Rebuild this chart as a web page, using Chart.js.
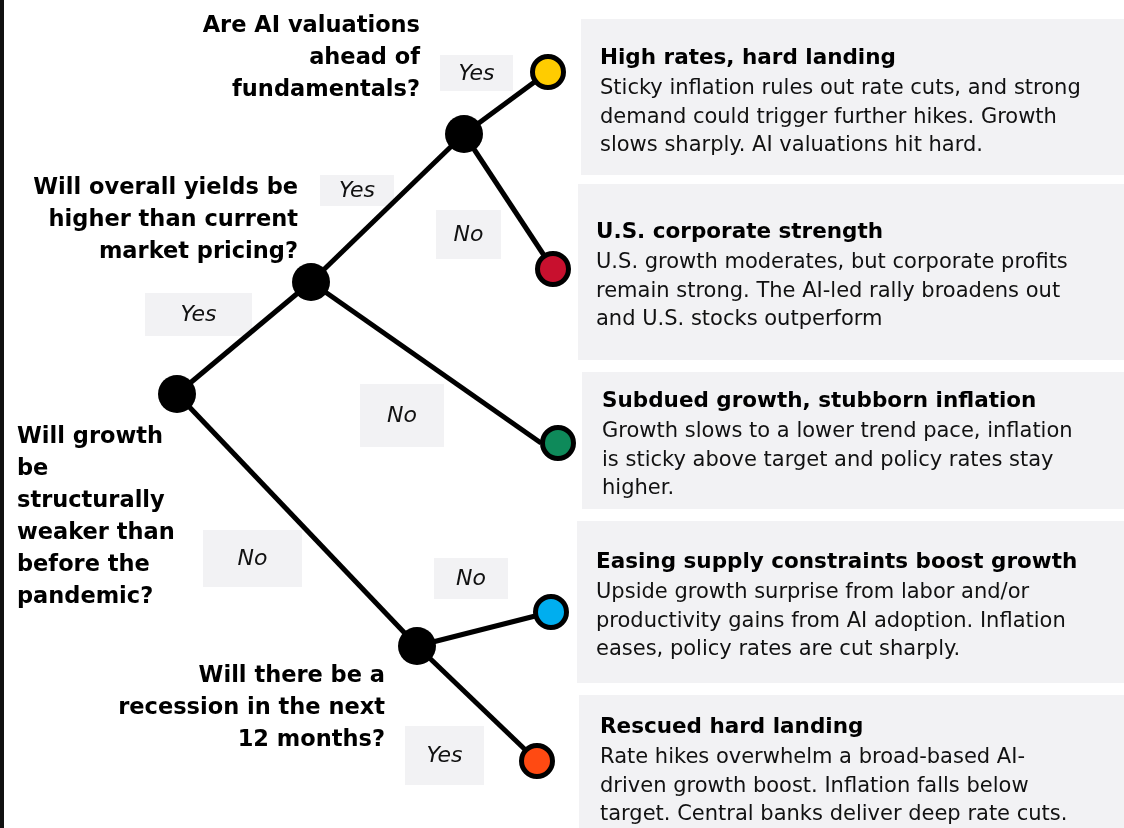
<!DOCTYPE html>
<html>
<head>
<meta charset="utf-8">
<script src="https://cdn.jsdelivr.net/npm/chart.js@4/dist/chart.umd.min.js"></script>
<style>
  html, body { margin: 0; padding: 0; background: #ffffff; }
  #wrap { width: 1124px; height: 828px; position: relative; }
</style>
</head>
<body>
<div id="wrap"><canvas id="c" width="1124" height="828"></canvas></div>
<script>
// ---------------- DATA ----------------
// Decision nodes (questions): root, yields, AI valuations, recession
const decisionIds = ['root', 'yields', 'ai', 'recession'];
const decisionX = [177, 311, 464, 417];
const decisionY = [394, 282, 134, 646];

// Outcome nodes (scenarios)
const outcomeIds = ['hard', 'corp', 'subdued', 'easing', 'rescued'];
const outcomeX = [548, 553, 558, 551, 537];
const outcomeY = [72, 269, 443, 612, 761];
const outcomeColors = ['#FFCC00', '#C8102E', '#0E8A5A', '#00AEEF', '#FF4A12'];

// Edges: from decision node -> to node
const edgeFrom = ['root', 'root', 'yields', 'yields', 'ai', 'ai', 'recession', 'recession'];
const edgeTo = ['yields', 'recession', 'ai', 'subdued', 'hard', 'corp', 'easing', 'rescued'];

// Question texts (one per decision node)
const questionLines = [
  ['Will growth', 'be', 'structurally', 'weaker than', 'before the', 'pandemic?'],
  ['Will overall yields be', 'higher than current', 'market pricing?'],
  ['Are AI valuations', 'ahead of', 'fundamentals?'],
  ['Will there be a', 'recession in the next', '12 months?']
];

// Branch labels (one per edge)
const branchLabels = ['Yes', 'No', 'Yes', 'No', 'Yes', 'No', 'No', 'Yes'];

// Scenario boxes
const scenarioTitles = [
  'High rates, hard landing',
  'U.S. corporate strength',
  'Subdued growth, stubborn inflation',
  'Easing supply constraints boost growth',
  'Rescued hard landing'
];
const scenarioBodies = [
  ['Sticky inflation rules out rate cuts, and strong', 'demand could trigger further hikes. Growth', 'slows sharply. AI valuations hit hard.'],
  ['U.S. growth moderates, but corporate profits', 'remain strong. The AI-led rally broadens out', 'and U.S. stocks outperform'],
  ['Growth slows to a lower trend pace, inflation', 'is sticky above target and policy rates stay', 'higher.'],
  ['Upside growth surprise from labor and/or', 'productivity gains from AI adoption. Inflation', 'eases, policy rates are cut sharply.'],
  ['Rate hikes overwhelm a broad-based AI-', 'driven growth boost. Inflation falls below', 'target. Central banks deliver deep rate cuts.']
];

// ---------------- LAYOUT (positions / styles) ----------------
const questionLayout = [
  { x: 17, y: 443, align: 'left' },
  { x: 298, y: 194, align: 'right' },
  { x: 420, y: 32, align: 'right' },
  { x: 385, y: 682, align: 'right' }
];
const labelBoxes = [ // per edge: x, y, w, h
  [145, 293, 107, 43],
  [203, 530, 99, 57],
  [320, 175, 74, 31],
  [360, 384, 84, 63],
  [440, 55, 73, 36],
  [436, 210, 65, 49],
  [434, 558, 74, 41],
  [405, 726, 79, 59]
];
const scenarioBoxes = [ // x, y, h, textX, titleBaseline
  [581, 19, 156, 600, 64],
  [578, 184, 176, 596, 238],
  [582, 372, 137, 602, 407],
  [577, 521, 162, 596, 568],
  [579, 695, 133, 600, 733]
];
const BOX_FILL = '#F2F2F4';
const FONT = '"DejaVu Sans", sans-serif';

// ---------------- BUILD ----------------
function nodePos(id) {
  let i = decisionIds.indexOf(id);
  if (i >= 0) return { x: decisionX[i], y: decisionY[i] };
  i = outcomeIds.indexOf(id);
  const p = { x: outcomeX[i], y: outcomeY[i] };
  if (id === 'subdued') p.x -= 17; // branch meets the node on its left side
  return p;
}

const datasets = [];
edgeFrom.forEach((f, k) => {
  datasets.push({
    type: 'scatter',
    data: [nodePos(f), nodePos(edgeTo[k])],
    showLine: true,
    borderColor: '#000000',
    borderWidth: 5,
    pointRadius: 0,
    clip: false,
    order: 3
  });
});
datasets.push({
  type: 'scatter',
  data: decisionX.map((x, i) => ({ x, y: decisionY[i] })),
  pointRadius: 19,
  pointBackgroundColor: '#000000',
  pointBorderWidth: 0,
  clip: false,
  order: 2
});
datasets.push({
  type: 'scatter',
  data: outcomeX.map((x, i) => ({ x, y: outcomeY[i] })),
  pointRadius: 15.5,
  pointBackgroundColor: outcomeColors,
  pointBorderColor: '#000000',
  pointBorderWidth: 5,
  clip: false,
  order: 1
});

const diagramPlugin = {
  id: 'diagram',
  beforeDatasetsDraw(chart) {
    const ctx = chart.ctx;
    ctx.save();
    // left frame strip
    ctx.fillStyle = '#111111';
    ctx.fillRect(0, 0, 4, 828);
    ctx.fillStyle = BOX_FILL;
    scenarioBoxes.forEach(b => ctx.fillRect(b[0], b[1], 1124 - b[0], b[2]));
    labelBoxes.forEach(b => ctx.fillRect(b[0], b[1], b[2], b[3]));
    ctx.restore();
  },
  afterDatasetsDraw(chart) {
    const ctx = chart.ctx;
    ctx.save();
    ctx.textBaseline = 'alphabetic';
    // questions
    ctx.fillStyle = '#000000';
    ctx.font = 'bold 22.5px ' + FONT;
    questionLines.forEach((lines, i) => {
      const L = questionLayout[i];
      ctx.textAlign = L.align;
      lines.forEach((t, j) => ctx.fillText(t, L.x, L.y + j * 32));
    });
    // branch labels
    ctx.font = 'oblique 22px ' + FONT;
    ctx.textAlign = 'center';
    ctx.textBaseline = 'middle';
    ctx.fillStyle = '#111111';
    branchLabels.forEach((t, i) => {
      const b = labelBoxes[i];
      ctx.fillText(t, b[0] + b[2] / 2, b[1] + b[3] / 2 + 1);
    });
    // scenarios
    ctx.textBaseline = 'alphabetic';
    ctx.textAlign = 'left';
    scenarioTitles.forEach((t, i) => {
      const b = scenarioBoxes[i];
      ctx.fillStyle = '#000000';
      ctx.font = 'bold 21.5px ' + FONT;
      ctx.fillText(t, b[3], b[4]);
      ctx.fillStyle = '#111111';
      ctx.font = '21px ' + FONT;
      scenarioBodies[i].forEach((line, j) => ctx.fillText(line, b[3], b[4] + 30 + j * 28.6));
    });
    ctx.restore();
  }
};

new Chart(document.getElementById('c'), {
  data: { datasets },
  options: {
    responsive: false,
    animation: false,
    devicePixelRatio: 1,
    events: [],
    layout: { padding: 0, autoPadding: false },
    plugins: { legend: { display: false }, tooltip: { enabled: false } },
    scales: {
      x: { type: 'linear', min: 0, max: 1124, display: false },
      y: { type: 'linear', min: 0, max: 828, reverse: true, display: false }
    }
  },
  plugins: [diagramPlugin]
});
</script>
</body>
</html>
